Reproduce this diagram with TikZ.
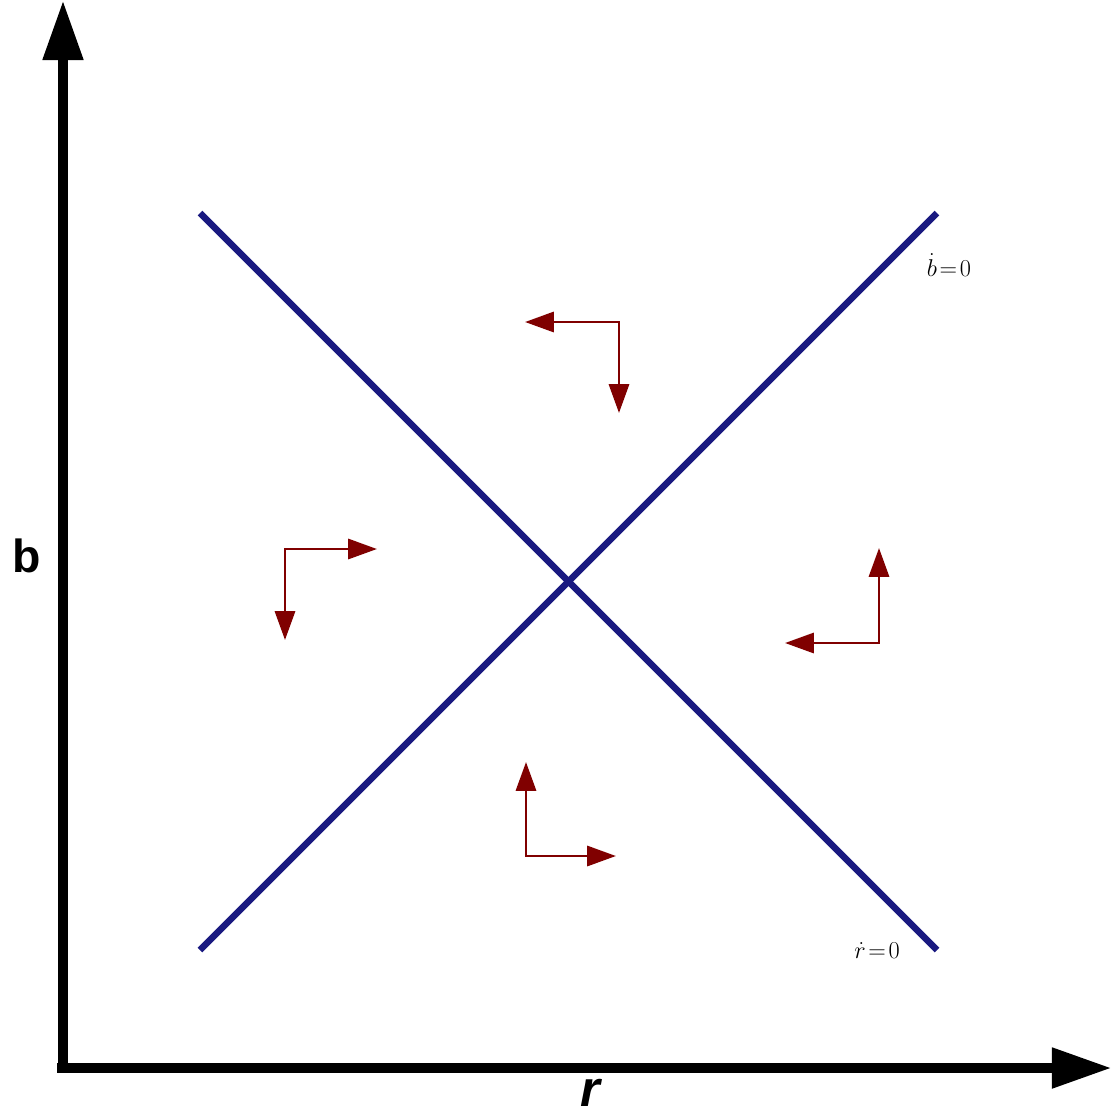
\documentclass[tikz,border=0pt]{standalone}
\usepackage{amsmath}
\usepackage{fontspec}
\setsansfont{Liberation Sans}
\usepackage{tikz}
\usetikzlibrary{arrows.meta, positioning}
\usepackage{xcolor}
\definecolor{navyline}{RGB}{25,25,128}
\definecolor{flowred}{RGB}{128,0,0}

\begin{document}
\begin{tikzpicture}[
    x=0.025cm, y=-0.025cm,
    axis/.style={line width=7.8pt, -{Triangle[length=1.5cm, width=0.95cm]}},
    nullcline/.style={line width=4.6pt, draw=navyline},
    flow/.style={line width=2.1pt, draw=flowred, {Triangle[length=0.72cm, width=0.5cm]}-{Triangle[length=0.72cm, width=0.5cm]}},
    axislabel/.style={font=\sffamily\bfseries\fontsize{33}{33}\selectfont, inner sep=0pt},
    clinelabel/.style={font=\fontsize{19}{19}\selectfont, inner sep=0pt}
]
\useasboundingbox (0,0) rectangle (1112,1114);

% Axes
\coordinate (ybot) at (63,1073);
\coordinate (ytop) at (63,0);
\coordinate (xleft) at (57,1068);
\coordinate (xright) at (1112,1068);
\draw[axis] (ybot) -- (ytop);
\draw[axis] (xleft) -- (xright);
\node[axislabel] (blabel) at (27,556) {b};
\node[axislabel, font=\sffamily\bfseries\itshape\fontsize{36}{36}\selectfont] (rlabel) at (590,1093) {r};

% Nullclines
\coordinate (rtop) at (200,213);
\coordinate (rbot) at (937,950);
\coordinate (bbot) at (200,950);
\coordinate (btop) at (937,213);
\draw[nullcline] (rtop) -- (rbot);
\draw[nullcline] (bbot) -- (btop);
\node[clinelabel] (bdot) at (949,265) {$\dot{b}\!=\!0$};
\node[clinelabel] (rdot) at (877,951) {$\dot{r}\!=\!0$};

% Flow directions
\coordinate (topc) at (619,322);
\coordinate (topl) at (525,322);
\coordinate (topd) at (619,413);
\draw[flow] (topl) -- (topc) -- (topd);

\coordinate (leftc) at (285,549);
\coordinate (leftr) at (377,549);
\coordinate (leftd) at (285,640);
\draw[flow] (leftr) -- (leftc) -- (leftd);

\coordinate (rightc) at (879,643);
\coordinate (rightl) at (785,643);
\coordinate (rightu) at (879,548);
\draw[flow] (rightl) -- (rightc) -- (rightu);

\coordinate (botc) at (526,856);
\coordinate (botu) at (526,762);
\coordinate (botr) at (616,856);
\draw[flow] (botu) -- (botc) -- (botr);

\end{tikzpicture}
\end{document}
